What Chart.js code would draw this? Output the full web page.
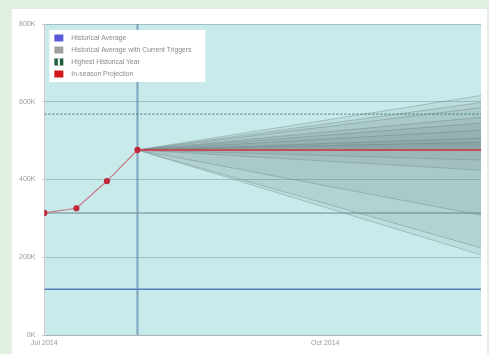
<!DOCTYPE html>
<html><head><meta charset="utf-8">
<script src="https://cdn.jsdelivr.net/npm/chart.js@4/dist/chart.umd.min.js"></script>
<style>
html,body{margin:0;padding:0;background:#e1f0e1;width:489px;height:354px;overflow:hidden}
#wrap{position:absolute;left:12px;top:9px;width:475px;height:345px;background:#fff}
</style></head><body>
<div id="wrap"><canvas id="c" width="475" height="345"></canvas></div>
<script>
// ---- data (values in thousands) ----
const historyDays = [0, 10.5, 20.5, 30.5];
const historyValues = [314, 326, 396, 476];
const projectionDays = [30.5, 143];
const projectionValues = [476, 476];
const triggerEndValues = [616, 598, 585, 560, 545, 527, 506, 496, 450, 424, 308, 224, 206];
const historicalAverage = 118;
const highestHistoricalYear = 568;
const triggerLevel = 314;
const currentDay = 30.5;
const xStart = 0, xEnd = 143;
const xTickDays = [0, 92];
const xTickLabels = ['Jul 2014', 'Oct 2014'];
const yTickValues = [0, 200, 400, 600, 800];
const legendLabels = ['Historical Average', 'Historical Average with Current Triggers', 'Highest Historical Year', 'In-season Projection'];

const hline = v => [{x: xStart, y: v}, {x: xEnd, y: v}];
const datasets = [];
datasets.push({label: 'current', data: [{x: currentDay, y: 0}, {x: currentDay, y: 800}], borderColor: 'rgba(100,140,175,0.75)', borderWidth: 2, pointRadius: 0, order: 50});
datasets.push({label: 'triggerLevel', data: hline(triggerLevel), borderColor: 'rgba(120,150,160,0.8)', borderWidth: 1.5, pointRadius: 0, order: 45});
datasets.push({label: legendLabels[0], data: hline(historicalAverage), borderColor: '#5a7fc0', borderWidth: 1.5, pointRadius: 0, order: 44});
triggerEndValues.forEach((v, i) => {
  datasets.push({label: 'trig' + i, data: [{x: projectionDays[0], y: projectionValues[0]}, {x: projectionDays[1], y: v}],
    borderColor: 'rgba(120,140,145,0.45)', borderWidth: 1, pointRadius: 0,
    backgroundColor: 'rgba(100,115,118,0.10)', fill: {value: projectionValues[0]}, order: 30});
});
datasets.push({label: legendLabels[2], data: hline(highestHistoricalYear), borderColor: 'rgba(70,120,120,0.85)', borderWidth: 1.2, borderDash: [2, 2], pointRadius: 0, order: 20});
datasets.push({label: legendLabels[3], data: projectionDays.map((d, i) => ({x: d, y: projectionValues[i]})), borderColor: '#c84a5c', borderWidth: 2, pointRadius: 0, order: 10});
datasets.push({label: 'history', data: historyDays.map((d, i) => ({x: d, y: historyValues[i]})), borderColor: '#c87a88', borderWidth: 1.2, pointRadius: 2.5, pointBackgroundColor: '#c0283c', pointBorderColor: '#c0283c', order: 5});

const bgPlugin = {
  id: 'bg',
  beforeDraw(chart) {
    const {ctx, chartArea: a} = chart;
    ctx.save(); ctx.fillStyle = '#c8eaea'; ctx.fillRect(a.left, a.top, a.right - a.left, a.bottom - a.top); ctx.restore();
  }
};
const legendPlugin = {
  id: 'boxLegend',
  afterDraw(chart) {
    const {ctx, chartArea: a} = chart;
    const x = a.left + 5, y = a.top + 6;
    ctx.save();
    ctx.fillStyle = '#ffffff'; ctx.fillRect(x, y, 156, 52);
    const colors = ['#5a5ad8', '#a0a0a0', '#1e5e3c', '#d01818'];
    ctx.font = '6.8px "Liberation Sans", Arial, sans-serif';
    ctx.textBaseline = 'middle';
    legendLabels.forEach((t, i) => {
      const cy = y + 8 + i * 12;
      ctx.fillStyle = colors[i]; ctx.fillRect(x + 5, cy - 3.5, 9, 7);
      if (i === 2) { ctx.fillStyle = '#ffffff'; ctx.fillRect(x + 8.5, cy - 3.5, 2, 7); }
      ctx.fillStyle = '#8a8a8a'; ctx.fillText(t, x + 22, cy);
    });
    ctx.restore();
  }
};

new Chart(document.getElementById('c'), {
  type: 'line',
  data: {datasets},
  plugins: [bgPlugin, legendPlugin],
  options: {
    responsive: false, animation: false,
    layout: {padding: {left: 0, right: 6, top: 15, bottom: 0}},
    plugins: {legend: {display: false}, tooltip: {enabled: false}},
    scales: {
      x: {type: 'linear', min: xStart, max: xEnd,
        afterBuildTicks: s => { s.ticks = xTickDays.map(v => ({value: v})); },
        afterFit: s => { s.height = 19; },
        ticks: {callback: (v) => xTickLabels[xTickDays.indexOf(v)] || '', color: '#999', font: {size: 7, family: 'Liberation Sans'}, maxRotation: 0, padding: 4},
        grid: {display: false, drawTicks: false}, border: {color: '#aab4b4', width: 1}},
      y: {min: 0, max: 800,
        afterBuildTicks: s => { s.ticks = yTickValues.map(v => ({value: v})); },
        ticks: {callback: v => v + 'K', color: '#999', font: {size: 7, family: 'Liberation Sans'}, padding: 7},
        grid: {color: 'rgba(140,175,180,0.7)', lineWidth: 1, tickLength: 2}, border: {color: '#d8c8d0', width: 1}}
    }
  }
});
</script></body></html>
